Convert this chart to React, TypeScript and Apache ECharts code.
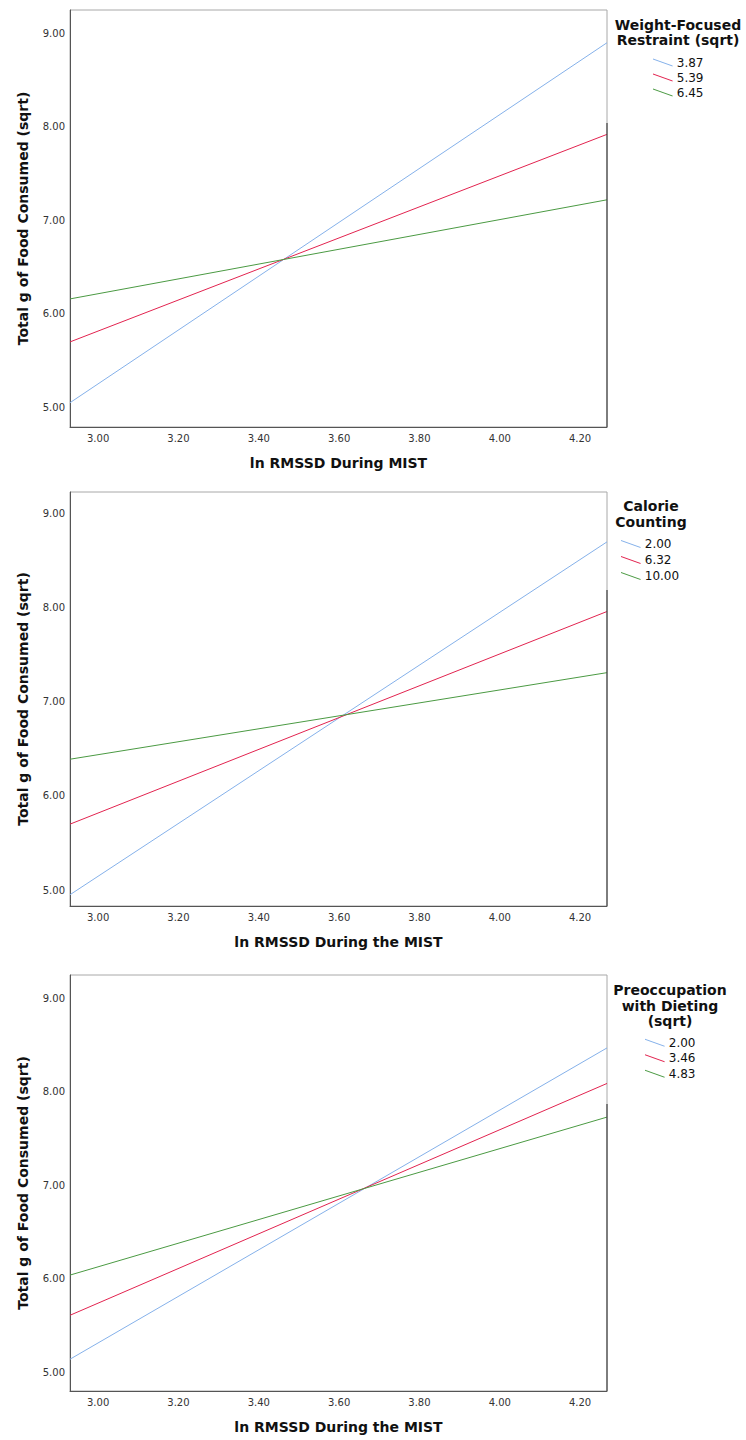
import React, { useEffect, useRef } from "react";
import * as echarts from "echarts";

// Predictor range (ln RMSSD)
const X_RANGE = [2.93, 4.267];
const X_LABEL_STEP = 0.2;
const Y_LABEL_STEP = 1;
const FINE_STEP = 0.01;

// Panel 1: Weight-Focused Restraint (sqrt)
const P1_LEVELS = ["3.87", "5.39", "6.45"];
const P1_START = [5.05, 5.7, 6.16];
const P1_END = [8.9, 7.92, 7.22];
const P1_Y = [4.79, 9.25];

// Panel 2: Calorie Counting
const P2_LEVELS = ["2.00", "6.32", "10.00"];
const P2_START = [4.95, 5.7, 6.39];
const P2_END = [8.7, 7.96, 7.31];
const P2_Y = [4.83, 9.23];

// Panel 3: Preoccupation with Dieting (sqrt)
const P3_LEVELS = ["2.00", "3.46", "4.83"];
const P3_START = [5.14, 5.61, 6.04];
const P3_END = [8.47, 8.09, 7.73];
const P3_Y = [4.8, 9.25];

const X_TITLES = ["ln RMSSD During MIST", "ln RMSSD During the MIST", "ln RMSSD During the MIST"];
const Y_TITLE = "Total g of Food Consumed (sqrt)";
const LEGEND_TITLES = ["Weight-Focused\nRestraint (sqrt)", "Calorie\nCounting", "Preoccupation\nwith Dieting\n(sqrt)"];

const COLORS = ["#85b1ea", "#e2234f", "#4b9a43"];

const FONT = "DejaVu Sans";

const GRIDS = [
  { left: 70, top: 10, width: 537, height: 417 },
  { left: 70, top: 492, width: 537, height: 414 },
  { left: 70, top: 975, width: 537, height: 416 },
];

const LEGEND_POS = [
  { left: 653, top: 55, titleX: 678, titleTop: 17.5, lh: 15 },
  { left: 621, top: 536, titleX: 651, titleTop: 498, lh: 16 },
  { left: 645, top: 1035, titleX: 670, titleTop: 982.5, lh: 15.5 },
];

const DARK_RIGHT_FROM = [123, 590, 1104];

const onStep = (v: number, step: number) => Math.abs(v / step - Math.round(v / step)) < 1e-6;

export default function App() {
  const ref = useRef<HTMLDivElement>(null);
  useEffect(() => {
    if (!ref.current) return;
    const chart = echarts.init(ref.current, undefined, { renderer: "svg" });
    const panels = [
      { levels: P1_LEVELS, start: P1_START, end: P1_END, y: P1_Y },
      { levels: P2_LEVELS, start: P2_START, end: P2_END, y: P2_Y },
      { levels: P3_LEVELS, start: P3_START, end: P3_END, y: P3_Y },
    ];
    const xAxis: any[] = [];
    const yAxis: any[] = [];
    const series: any[] = [];
    const legend: any[] = [];
    const graphic: any[] = [];
    panels.forEach((p, i) => {
      xAxis.push({
        type: "value",
        gridIndex: i,
        min: X_RANGE[0],
        max: X_RANGE[1],
        interval: FINE_STEP,
        splitLine: { show: false },
        axisTick: { show: false },
        axisLine: { show: true, lineStyle: { color: "#555", width: 1 } },
        axisLabel: {
          showMinLabel: false,
          showMaxLabel: false,
          margin: 6,
          color: "#333",
          fontFamily: FONT,
          fontSize: 10,
          formatter: (v: number) => (onStep(v, X_LABEL_STEP) ? v.toFixed(2) : ""),
        },
        name: X_TITLES[i],
        nameLocation: "middle",
        nameGap: 29,
        nameTextStyle: { fontFamily: FONT, fontWeight: "bold", fontSize: 14, color: "#111" },
      });
      yAxis.push({
        type: "value",
        gridIndex: i,
        min: p.y[0],
        max: p.y[1],
        interval: FINE_STEP,
        splitLine: { show: false },
        axisTick: { show: false },
        axisLine: { show: true, lineStyle: { color: "#555", width: 1 } },
        axisLabel: {
          showMinLabel: false,
          showMaxLabel: false,
          margin: 5,
          color: "#333",
          fontFamily: FONT,
          fontSize: 10,
          formatter: (v: number) => (onStep(v, Y_LABEL_STEP) ? v.toFixed(2) : ""),
        },
        name: Y_TITLE,
        nameLocation: "middle",
        nameGap: 40,
        nameTextStyle: { fontFamily: FONT, fontWeight: "bold", fontSize: 14, color: "#111" },
      });
      p.levels.forEach((lvl, k) => {
        series.push({
          type: "line",
          name: lvl,
          xAxisIndex: i,
          yAxisIndex: i,
          data: [
            [X_RANGE[0], p.start[k]],
            [X_RANGE[1], p.end[k]],
          ],
          showSymbol: false,
          symbol: "none",
          color: COLORS[k],
          lineStyle: { color: COLORS[k], width: 1 },
          silent: true,
        });
      });
      const lp = LEGEND_POS[i];
      legend.push({
        orient: "vertical",
        left: lp.left,
        top: lp.top,
        padding: 0,
        itemGap: 0,
        itemWidth: 22,
        itemHeight: 8,
        icon: "path://M0,0L22,8L22,9L0,1Z",
        itemStyle: { borderWidth: 0 },
        selectedMode: false,
        data: p.levels,
        textStyle: { fontFamily: FONT, fontSize: 12, color: "#111", lineHeight: lp.lh, padding: [0, 0, 0, -2] },
      });
      graphic.push({
        type: "text",
        x: lp.titleX,
        y: lp.titleTop,
        style: {
          text: LEGEND_TITLES[i],
          align: "center",
          verticalAlign: "top",
          fontFamily: FONT,
          fontWeight: "bold",
          fontSize: 14,
          lineHeight: lp.lh,
          fill: "#111",
        },
      });
      const g = GRIDS[i];
      graphic.push({
        type: "line",
        shape: { x1: g.left + g.width, y1: DARK_RIGHT_FROM[i], x2: g.left + g.width, y2: g.top + g.height },
        style: { stroke: "#444", lineWidth: 1.2 },
        z: 10,
      });
    });
    chart.setOption({
      animation: false,
      backgroundColor: "#fff",
      grid: GRIDS.map((g) => ({ ...g, show: true, borderColor: "#a8a8a8", borderWidth: 1, backgroundColor: "transparent" })),
      xAxis,
      yAxis,
      series,
      legend,
      graphic,
    });
    return () => chart.dispose();
  }, []);
  return <div ref={ref} style={{ position: "absolute", left: 0, top: 0, width: 746, height: 1440 }} />;
}
